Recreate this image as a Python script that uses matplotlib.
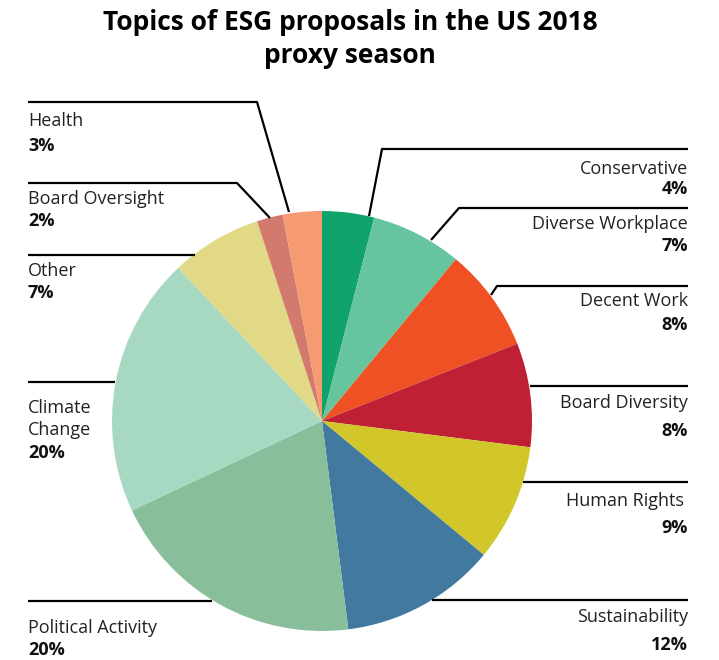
# -*- coding: utf-8 -*-
# Topics of ESG proposals in the US 2018 proxy season - pie chart with leader lines

import numpy as np
import matplotlib
matplotlib.use("Agg")
import matplotlib.pyplot as plt

plt.rcParams['font.family'] = ['Open Sans', 'DejaVu Sans']

# Data (clockwise from 12 o'clock)
topics = ["Conservative", "Diverse Workplace", "Decent Work", "Board Diversity",
          "Human Rights", "Sustainability", "Political Activity", "Climate Change",
          "Other", "Board Oversight", "Health"]
shares = [4, 7, 8, 8, 9, 12, 20, 20, 7, 2, 3]
colors = ["#10a36b", "#66c59f", "#ef5125", "#bf2033", "#d2c72a", "#42799f",
          "#88be99", "#a6d8c2", "#e1d986", "#d27a6e", "#f59a71"]
label_text = ["Conservative", "Diverse Workplace", "Decent Work", "Board Diversity",
              "Human Rights ", "Sustainability", "Political Activity", "Climate\nChange",
              "Other", "Board Oversight", "Health"]

W, H = 719, 660

def Y(y):
    # image pixel row -> data y
    return H - y

fig = plt.figure(figsize=(W / 100, H / 100), dpi=100)
ax = fig.add_axes([0, 0, 1, 1])
ax.set_xlim(0, W)
ax.set_ylim(0, H)
ax.set_aspect('equal')
ax.axis('off')

cx, cy, r = 322, 421, 210
ax.pie(shares, colors=colors, startangle=90, counterclock=False,
       center=(cx, Y(cy)), radius=r, frame=True,
       wedgeprops=dict(linewidth=0))
ax.set_xlim(0, W)
ax.set_ylim(0, H)
ax.axis('off')

# leader lines (image pixel coords)
leaders = [
    [(369, 216), (382, 149), (688, 149)],
    [(431, 240), (459, 208), (688, 208)],
    [(491, 295), (497, 286), (688, 286)],
    [(530, 386), (688, 386)],
    [(523, 482), (688, 482)],
    [(432, 600), (688, 600)],
    [(212, 601), (28, 601)],
    [(115, 382), (28, 382)],
    [(195, 255), (28, 255)],
    [(270, 218), (237, 183), (28, 183)],
    [(289, 212), (257, 102), (28, 102)],
]
for pts in leaders:
    xs = [p[0] for p in pts]
    ys = [Y(p[1]) for p in pts]
    ax.plot(xs, ys, color='black', lw=1.6, solid_capstyle='butt')

# text positions: (x, name y, pct y, align)
name_pos = [
    (688, 169, 189, 'right'),
    (688, 224, 246, 'right'),
    (688, 301, 325, 'right'),
    (688, 403, 431, 'right'),
    (688, 501, 528, 'right'),
    (688, 617, 645, 'right'),
    (28, 628, 650, 'left'),
    (28, 419, 453, 'left'),
    (28, 271, 293, 'left'),
    (28, 199, 221, 'left'),
    (28, 121, 146, 'left'),
]
for name, val, (x, ny, py, ha) in zip(label_text, shares, name_pos):
    ax.text(x, Y(ny), name, ha=ha, va='center', fontsize=13,
            color='#222222', linespacing=1.3)
    ax.text(x, Y(py), f"{val}%", ha=ha, va='center', fontsize=13,
            fontweight='bold', color='#111111')

ax.text(350, Y(39), "Topics of ESG proposals in the US 2018\nproxy season",
        ha='center', va='center', fontsize=19, fontweight='bold',
        color='black', linespacing=1.25)

fig.savefig("out.png", dpi=100)
